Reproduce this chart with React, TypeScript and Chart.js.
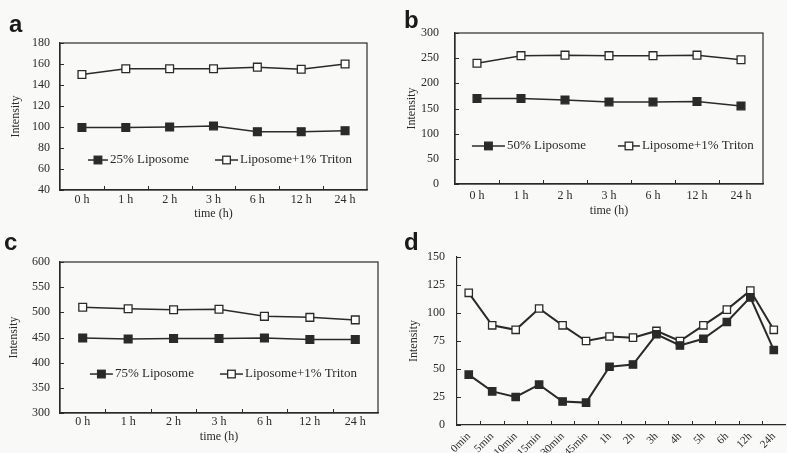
import React, { useEffect, useRef } from "react";
import { Chart, registerables } from "chart.js";
Chart.register(...registerables);

const FONT = "'Liberation Serif', 'Times New Roman', serif";
const INK = "#2a2a2a";

// ---- data ----
const hourLabels = ["0 h", "1 h", "2 h", "3 h", "6 h", "12 h", "24 h"];
const aFilled = [99.5, 99.5, 100, 101, 95.5, 95.5, 96.5];
const aOpen = [150, 155.5, 155.5, 155.5, 157, 155, 160];
const bFilled = [170, 170, 167, 163, 163, 164, 155];
const bOpen = [240, 255, 256, 255, 255, 256, 247];
const cFilled = [449, 447, 448, 448, 449, 446, 446];
const cOpen = [510, 507, 505, 506, 492, 490, 485];
const dLabels = ["0min", "5min", "10min", "15min", "30min", "45min", "1h", "2h", "3h", "4h", "5h", "6h", "12h", "24h"];
const dFilled = [45, 30, 25, 36, 21, 20, 52, 54, 81, 71, 77, 92, 114, 67];
const dOpen = [118, 89, 85, 104, 89, 75, 79, 78, 84, 75, 89, 103, 120, 85];
const tritonName = "Liposome+1% Triton";

type Panel = {
  x: number; y: number; w: number; h: number;
  area: { l: number; t: number; r: number; b: number };
  labels: string[];
  filled: number[]; open: number[];
  filledName: string; openName: string;
  yMin: number; yMax: number; yStep: number;
  box: boolean;
  legend: any;
  xTitle?: string; xTitlePad: number;
  rot: number; xPad: number; yPad: number; yTitlePad: number;
  xFont: number; pointR: number; lineWidth: number;
};

const boxPlugin = {
  id: "plotBox",
  afterDraw(chart: any, _a: any, opts: any) {
    if (!opts || !opts.show) return;
    const { ctx, chartArea: a } = chart;
    ctx.save();
    ctx.strokeStyle = INK;
    ctx.lineWidth = 1.2;
    ctx.strokeRect(a.left, a.top, a.right - a.left, a.bottom - a.top);
    ctx.restore();
  },
};

const tickPlugin = {
  id: "inTicks",
  afterDraw(chart: any) {
    const { ctx, chartArea: a, scales } = chart;
    const x = scales.x, y = scales.y;
    ctx.save();
    ctx.strokeStyle = INK;
    ctx.lineWidth = 1;
    ctx.beginPath();
    y.ticks.forEach((_t: any, i: number) => {
      const py = Math.round(y.getPixelForTick(i)) + 0.5;
      ctx.moveTo(a.left, py);
      ctx.lineTo(a.left + 4, py);
    });
    for (let i = 1; i < x.ticks.length; i++) {
      const px = Math.round((x.getPixelForTick(i - 1) + x.getPixelForTick(i)) / 2) + 0.5;
      ctx.moveTo(px, a.bottom);
      ctx.lineTo(px, a.bottom - 4);
    }
    ctx.stroke();
    ctx.restore();
  },
};

const legendPlugin = {
  id: "inLegend",
  afterDraw(chart: any, _a: any, opts: any) {
    if (!opts || !opts.items) return;
    const { ctx, chartArea: a } = chart;
    const w = a.right - a.left, h = a.bottom - a.top;
    const yy = a.top + opts.y * h;
    ctx.save();
    chart.data.datasets.forEach((ds: any, i: number) => {
      const it = opts.items[i];
      const x0 = a.left + it.x * w;
      ctx.strokeStyle = INK;
      ctx.lineWidth = 1.5;
      ctx.beginPath();
      ctx.moveTo(x0, yy);
      ctx.lineTo(x0 + it.w, yy);
      ctx.stroke();
      const s = 3.8;
      ctx.fillStyle = ds.pointBackgroundColor;
      ctx.fillRect(x0 + it.w / 2 - s, yy - s, 2 * s, 2 * s);
      ctx.lineWidth = 1.3;
      ctx.strokeRect(x0 + it.w / 2 - s, yy - s, 2 * s, 2 * s);
      ctx.fillStyle = INK;
      ctx.font = `13px ${FONT}`;
      ctx.textBaseline = "middle";
      ctx.textAlign = "left";
      ctx.fillText(ds.label, x0 + it.w + 2, yy);
    });
    ctx.restore();
  },
};

function buildConfig(p: Panel): any {
  const ds = (label: string, data: number[], filled: boolean) => ({
    label,
    data,
    borderColor: INK,
    borderWidth: p.lineWidth,
    pointStyle: "rect",
    pointRadius: p.pointR,
    pointBorderWidth: 1.3,
    pointBackgroundColor: filled ? INK : "#ffffff",
    pointBorderColor: INK,
    tension: 0,
    fill: false,
  });
  return {
    type: "line",
    data: {
      labels: p.labels,
      datasets: [ds(p.filledName, p.filled, true), ds(p.openName, p.open, false)],
    },
    options: {
      responsive: false,
      animation: false,
      devicePixelRatio: 1,
      layout: { padding: { left: 0, top: p.area.t, right: p.w - p.area.r, bottom: 0 } },
      plugins: {
        legend: { display: false },
        tooltip: { enabled: false },
        plotBox: { show: p.box },
        inLegend: p.legend,
        inTicks: {},
      },
      scales: {
        x: {
          offset: true,
          grid: { display: false, drawTicks: false },
          border: { display: true, color: INK, width: 1.2 },
          ticks: {
            autoSkip: false,
            maxRotation: p.rot,
            minRotation: p.rot,
            padding: p.xPad,
            color: INK,
            font: { family: FONT, size: p.xFont },
          },
          title: {
            display: !!p.xTitle,
            text: p.xTitle || "",
            color: INK,
            font: { family: FONT, size: 12 },
            padding: { top: 0, bottom: p.xTitlePad },
          },
          afterFit: (s: any) => {
            s.height = p.h - p.area.b;
            s.paddingLeft = 0;
            s.paddingRight = 0;
          },
        },
        y: {
          min: p.yMin,
          max: p.yMax,
          grid: { display: false, drawTicks: false },
          border: { display: true, color: INK, width: 1.2 },
          ticks: {
            stepSize: p.yStep,
            padding: p.yPad,
            color: INK,
            font: { family: FONT, size: 12 },
          },
          title: {
            display: true,
            text: "Intensity",
            color: INK,
            font: { family: FONT, size: 12 },
            padding: { top: p.yTitlePad, bottom: 0 },
          },
          afterFit: (s: any) => {
            s.width = p.area.l;
            s.paddingTop = 0;
            s.paddingBottom = 0;
          },
        },
      },
    },
    plugins: [boxPlugin, tickPlugin, legendPlugin],
  };
}

const panels: Panel[] = [
  {
    x: 0, y: 35, w: 400, h: 190,
    area: { l: 60, t: 8, r: 367, b: 155 },
    labels: hourLabels, filled: aFilled, open: aOpen,
    filledName: "25% Liposome", openName: tritonName,
    yMin: 40, yMax: 180, yStep: 20, box: true,
    legend: { y: 0.796, items: [{ x: 0.091, w: 20 }, { x: 0.505, w: 23 }] },
    xTitle: "time (h)", xTitlePad: 4, rot: 0, xPad: 3, yPad: 10, yTitlePad: 9,
    xFont: 12, pointR: 5.5, lineWidth: 1.5,
  },
  {
    x: 400, y: 25, w: 387, h: 196,
    area: { l: 55, t: 8, r: 363, b: 159 },
    labels: hourLabels, filled: bFilled, open: bOpen,
    filledName: "50% Liposome", openName: tritonName,
    yMin: 0, yMax: 300, yStep: 50, box: true,
    legend: { y: 0.748, items: [{ x: 0.055, w: 33 }, { x: 0.529, w: 22 }] },
    xTitle: "time (h)", xTitlePad: 3, rot: 0, xPad: 5, yPad: 16, yTitlePad: 5,
    xFont: 12, pointR: 5.5, lineWidth: 1.5,
  },
  {
    x: 0, y: 255, w: 400, h: 192,
    area: { l: 60, t: 7, r: 378, b: 158 },
    labels: hourLabels, filled: cFilled, open: cOpen,
    filledName: "75% Liposome", openName: tritonName,
    yMin: 300, yMax: 600, yStep: 50, box: true,
    legend: { y: 0.742, items: [{ x: 0.094, w: 23 }, { x: 0.503, w: 23 }] },
    xTitle: "time (h)", xTitlePad: 3, rot: 0, xPad: 2, yPad: 10, yTitlePad: 7,
    xFont: 12, pointR: 5.5, lineWidth: 1.5,
  },
  {
    x: 400, y: 250, w: 392, h: 203,
    area: { l: 57, t: 7, r: 391, b: 175 },
    labels: dLabels, filled: dFilled, open: dOpen,
    filledName: "Liposome", openName: tritonName,
    yMin: 0, yMax: 150, yStep: 25, box: false,
    legend: false,
    xTitlePad: 0, rot: 45, xPad: 5, yPad: 12, yTitlePad: 7,
    xFont: 11, pointR: 5.2, lineWidth: 2,
  },
];

function PanelChart({ p }: { p: Panel }) {
  const ref = useRef<HTMLCanvasElement>(null);
  useEffect(() => {
    const chart = new Chart(ref.current as HTMLCanvasElement, buildConfig(p));
    return () => chart.destroy();
  }, []);
  return (
    <canvas
      ref={ref}
      width={p.w}
      height={p.h}
      style={{ position: "absolute", left: p.x, top: p.y, width: p.w, height: p.h }}
    />
  );
}

const letterStyle: React.CSSProperties = {
  position: "absolute",
  fontFamily: "'Liberation Sans', Arial, sans-serif",
  fontWeight: "bold",
  fontSize: 24,
  lineHeight: "24px",
  color: "#1a1a1a",
};

export default function App() {
  return (
    <div
      style={{
        position: "fixed",
        left: 0,
        top: 0,
        width: 787,
        height: 453,
        background: "#f9f9f8",
        overflow: "hidden",
      }}
    >
      {panels.map((p, i) => (
        <PanelChart key={i} p={p} />
      ))}
      <div style={{ ...letterStyle, left: 9, top: 12 }}>a</div>
      <div style={{ ...letterStyle, left: 404, top: 8 }}>b</div>
      <div style={{ ...letterStyle, left: 4, top: 230 }}>c</div>
      <div style={{ ...letterStyle, left: 404, top: 230 }}>d</div>
    </div>
  );
}
